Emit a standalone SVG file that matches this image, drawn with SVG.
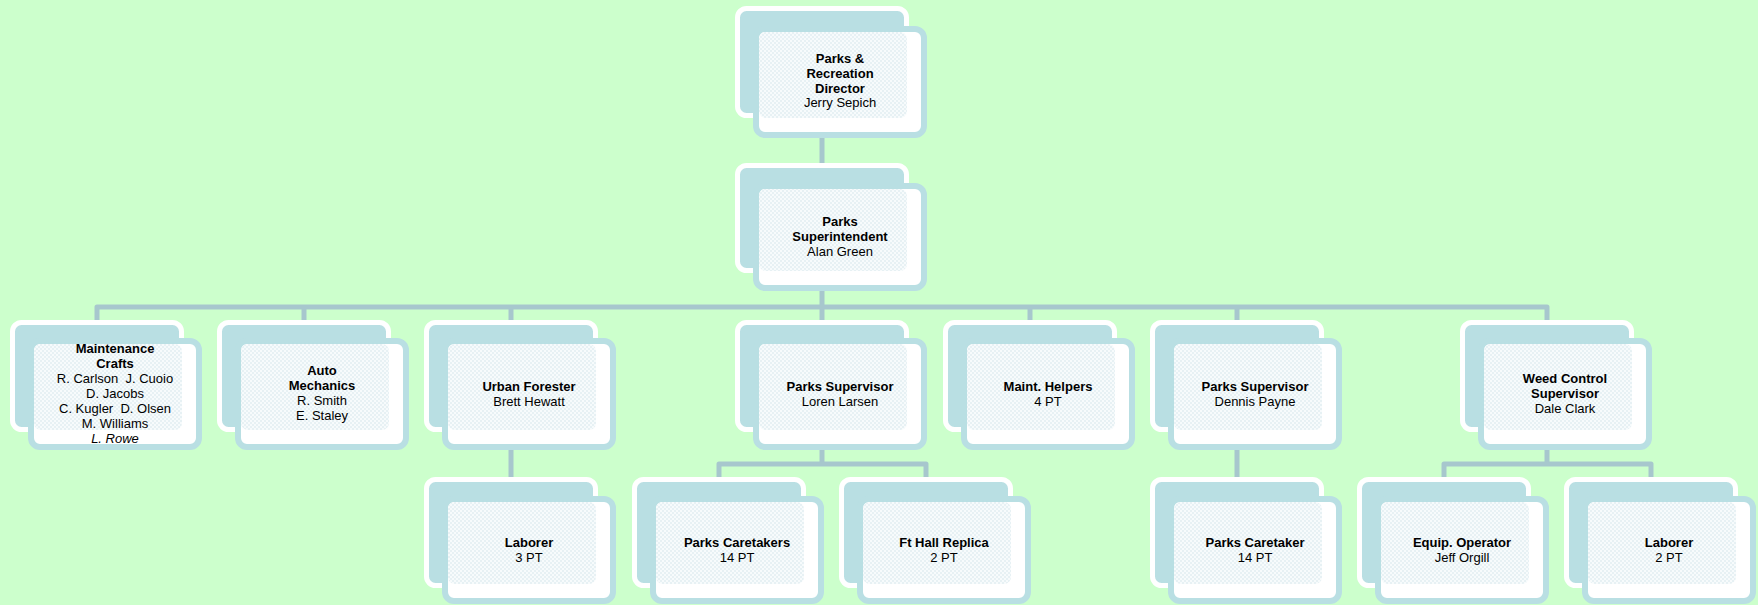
<svg xmlns="http://www.w3.org/2000/svg" width="1758" height="605" viewBox="0 0 1758 605">
<defs>
<pattern id="pat" width="4" height="4" patternUnits="userSpaceOnUse">
<rect width="4" height="4" fill="#F7FBFC"/>
<circle cx="1" cy="1" r="0.9" fill="#E0EDF1"/>
<circle cx="3" cy="3" r="0.9" fill="#E0EDF1"/>
</pattern>
<style>
.bk{fill:#B9DFE3;stroke:#FFFFFF;stroke-width:5}
.fr{fill:#FFFFFF;stroke:#B9DFE3;stroke-width:6}
.in{fill:url(#pat)}
.cn{fill:none;stroke:#A7C7CD;stroke-width:5;stroke-linejoin:round}
text{font-family:"Liberation Sans",Arial,sans-serif;font-size:13px;fill:#000;text-anchor:middle;white-space:pre}
.b{font-weight:bold}
.i{font-style:italic}
</style>
</defs>
<rect width="1758" height="605" fill="#CCFFCC"/>
<g id="connectors">
<path class="cn" d="M822 120 V170"/>
<path class="cn" d="M822 280 V307"/>
<path class="cn" d="M97 325 V307 H1547 V325"/>
<path class="cn" d="M304 307 V325 M511 307 V325 M822 307 V325 M1030 307 V325 M1237 307 V325"/>
<path class="cn" d="M511 440 V482"/>
<path class="cn" d="M822 440 V464 M719 482 V464 H926 V482"/>
<path class="cn" d="M1237 440 V482"/>
<path class="cn" d="M1547 440 V464 M1444 482 V464 H1651 V482"/>
</g>
<g id="n-director">
<rect class="bk" x="737.5" y="8.5" width="169" height="107" rx="9"/>
<rect class="fr" x="756" y="29" width="168" height="106" rx="9"/>
<rect class="in" x="759" y="32" width="148" height="86" rx="7"/>
<text x="840" y="63" class="b">Parks &amp;</text>
<text x="840" y="78" class="b">Recreation</text>
<text x="840" y="93" class="b">Director</text>
<text x="840" y="107">Jerry Sepich</text>
</g>
<g id="n-super">
<rect class="bk" x="737.5" y="165.5" width="169" height="105" rx="9"/>
<rect class="fr" x="756" y="186" width="168" height="102" rx="9"/>
<rect class="in" x="759" y="189" width="148" height="82" rx="7"/>
<text x="840" y="226" class="b">Parks</text>
<text x="840" y="241" class="b">Superintendent</text>
<text x="840" y="256">Alan Green</text>
</g>
<g id="n-maint">
<rect class="bk" x="12.5" y="322.5" width="169" height="107" rx="9"/>
<rect class="fr" x="31" y="341" width="168" height="106" rx="9"/>
<rect class="in" x="34" y="344" width="148" height="86" rx="7"/>
<text x="115" y="353" class="b">Maintenance</text>
<text x="115" y="368" class="b">Crafts</text>
<text x="115" y="383">R. Carlson  J. Cuoio</text>
<text x="115" y="398">D. Jacobs</text>
<text x="115" y="413">C. Kugler  D. Olsen</text>
<text x="115" y="428">M. Williams</text>
<text x="115" y="443" class="i">L. Rowe</text>
</g>
<g id="n-auto">
<rect class="bk" x="219.5" y="322.5" width="169" height="107" rx="9"/>
<rect class="fr" x="238" y="341" width="168" height="106" rx="9"/>
<rect class="in" x="241" y="344" width="148" height="86" rx="7"/>
<text x="322" y="375" class="b">Auto</text>
<text x="322" y="390" class="b">Mechanics</text>
<text x="322" y="405">R. Smith</text>
<text x="322" y="420">E. Staley</text>
</g>
<g id="n-urban">
<rect class="bk" x="426.5" y="322.5" width="169" height="107" rx="9"/>
<rect class="fr" x="445" y="341" width="168" height="106" rx="9"/>
<rect class="in" x="448" y="344" width="148" height="86" rx="7"/>
<text x="529" y="391" class="b">Urban Forester</text>
<text x="529" y="406">Brett Hewatt</text>
</g>
<g id="n-loren">
<rect class="bk" x="737.5" y="322.5" width="169" height="107" rx="9"/>
<rect class="fr" x="756" y="341" width="168" height="106" rx="9"/>
<rect class="in" x="759" y="344" width="148" height="86" rx="7"/>
<text x="840" y="391" class="b">Parks Supervisor</text>
<text x="840" y="406">Loren Larsen</text>
</g>
<g id="n-helpers">
<rect class="bk" x="945.5" y="322.5" width="169" height="107" rx="9"/>
<rect class="fr" x="964" y="341" width="168" height="106" rx="9"/>
<rect class="in" x="967" y="344" width="148" height="86" rx="7"/>
<text x="1048" y="391" class="b">Maint. Helpers</text>
<text x="1048" y="406">4 PT</text>
</g>
<g id="n-dennis">
<rect class="bk" x="1152.5" y="322.5" width="169" height="107" rx="9"/>
<rect class="fr" x="1171" y="341" width="168" height="106" rx="9"/>
<rect class="in" x="1174" y="344" width="148" height="86" rx="7"/>
<text x="1255" y="391" class="b">Parks Supervisor</text>
<text x="1255" y="406">Dennis Payne</text>
</g>
<g id="n-weed">
<rect class="bk" x="1462.5" y="322.5" width="169" height="107" rx="9"/>
<rect class="fr" x="1481" y="341" width="168" height="106" rx="9"/>
<rect class="in" x="1484" y="344" width="148" height="86" rx="7"/>
<text x="1565" y="383" class="b">Weed Control</text>
<text x="1565" y="398" class="b">Supervisor</text>
<text x="1565" y="413">Dale Clark</text>
</g>
<g id="n-laborer1">
<rect class="bk" x="426.5" y="479.5" width="169" height="106" rx="9"/>
<rect class="fr" x="445" y="499" width="168" height="102" rx="9"/>
<rect class="in" x="448" y="502" width="148" height="82" rx="7"/>
<text x="529" y="547" class="b">Laborer</text>
<text x="529" y="562">3 PT</text>
</g>
<g id="n-caretakers">
<rect class="bk" x="634.5" y="479.5" width="169" height="106" rx="9"/>
<rect class="fr" x="653" y="499" width="168" height="102" rx="9"/>
<rect class="in" x="656" y="502" width="148" height="82" rx="7"/>
<text x="737" y="547" class="b">Parks Caretakers</text>
<text x="737" y="562">14 PT</text>
</g>
<g id="n-fthall">
<rect class="bk" x="841.5" y="479.5" width="169" height="106" rx="9"/>
<rect class="fr" x="860" y="499" width="168" height="102" rx="9"/>
<rect class="in" x="863" y="502" width="148" height="82" rx="7"/>
<text x="944" y="547" class="b">Ft Hall Replica</text>
<text x="944" y="562">2 PT</text>
</g>
<g id="n-caretaker">
<rect class="bk" x="1152.5" y="479.5" width="169" height="106" rx="9"/>
<rect class="fr" x="1171" y="499" width="168" height="102" rx="9"/>
<rect class="in" x="1174" y="502" width="148" height="82" rx="7"/>
<text x="1255" y="547" class="b">Parks Caretaker</text>
<text x="1255" y="562">14 PT</text>
</g>
<g id="n-equip">
<rect class="bk" x="1359.5" y="479.5" width="169" height="106" rx="9"/>
<rect class="fr" x="1378" y="499" width="168" height="102" rx="9"/>
<rect class="in" x="1381" y="502" width="148" height="82" rx="7"/>
<text x="1462" y="547" class="b">Equip. Operator</text>
<text x="1462" y="562">Jeff Orgill</text>
</g>
<g id="n-laborer2">
<rect class="bk" x="1566.5" y="479.5" width="169" height="106" rx="9"/>
<rect class="fr" x="1585" y="499" width="168" height="102" rx="9"/>
<rect class="in" x="1588" y="502" width="148" height="82" rx="7"/>
<text x="1669" y="547" class="b">Laborer</text>
<text x="1669" y="562">2 PT</text>
</g>
</svg>
